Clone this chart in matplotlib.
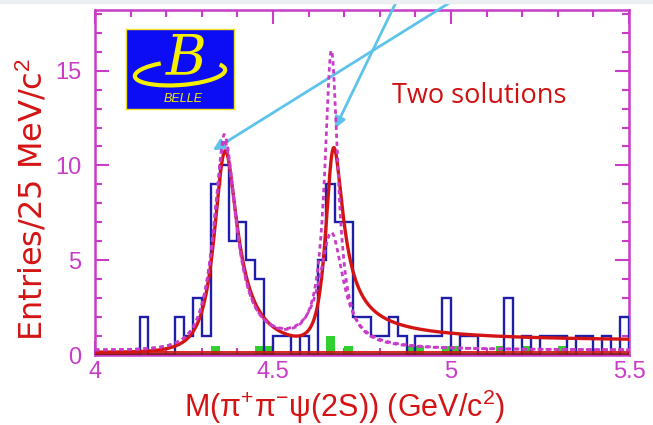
import numpy as np
import matplotlib
matplotlib.use("Agg")
import matplotlib.pyplot as plt
from matplotlib.patches import Rectangle, Arc
from matplotlib.ticker import MultipleLocator

plt.rcParams['mathtext.fontset'] = 'custom'
plt.rcParams['mathtext.rm'] = 'Liberation Sans'
plt.rcParams['mathtext.it'] = 'Liberation Sans:italic'

# ---- histogram: M(pi+ pi- psi(2S)), 25 MeV bins from 4.0 to 5.5 GeV ----
mass_lo, mass_hi, n_bins = 4.0, 5.5, 60
entries = [0, 0, 0, 0, 0,  2, 0, 0, 0, 2,
           1, 3, 1, 9, 10, 6, 7, 5, 4, 0,
           1, 1, 0, 1, 0,  5, 9, 7, 7, 2,
           2, 1, 1, 2, 1,  0, 1, 1, 1, 3,
           0, 1, 1, 0, 0,  0, 3, 0, 1, 0,
           1, 1, 1, 0, 1,  1, 0, 1, 0, 2]

# scaled psi(2S) sideband events (bin index, entries)
sideband_bins = [13, 18, 19, 26, 28, 35, 36, 39, 40, 45, 48, 52]
sideband_entries = [0.5, 0.5, 0.5, 1.0, 0.5, 0.5, 0.5, 0.5, 0.5, 0.5, 0.5, 0.5]

# ---- fit: two coherent Breit-Wigners times threshold factor + flat background ----
threshold = 3.97
m1, g1, a1 = 4.362, 0.080, 3.16
m2, g2, a2 = 4.665, 0.060, 1.27
phase = 0.6
bkg = 0.15

# components of the two solutions (peak heights per resonance)
comp_m1, comp_g1 = 4.362, 0.085
comp_m2 = 4.664
sol1_h1, sol1_h2, sol1_g2 = 11.3, 15.6, 0.045
sol2_h1, sol2_h2, sol2_g2 = 11.0, 6.0, 0.080
comp_bkg = 0.25

x_ticks_major = [4.0, 4.5, 5.0, 5.5]
x_tick_labels = ["4", "4.5", "5", "5.5"]
y_ticks_major = [0, 5, 10, 15]

magenta = '#c83cc8'
red = '#d41414'
navy = '#1e1ea8'

fig = plt.figure(figsize=(6.53, 4.25), dpi=100)
fig.patches.append(Rectangle((0, 1 - 3 / 425), 1, 3 / 425, transform=fig.transFigure,
                             color='#eceff2', zorder=0))
ax = fig.add_axes([95 / 653, 70 / 425, 534 / 653, 345 / 425])

edges = np.linspace(mass_lo, mass_hi, n_bins + 1)
centers = 0.5 * (edges[:-1] + edges[1:])
width = edges[1] - edges[0]

ax.bar(centers[sideband_bins], sideband_entries, width=width, color='#30d030',
       edgecolor='none', zorder=2)
ax.stairs(entries, edges, color=navy, lw=1.7, zorder=3)

x = np.linspace(mass_lo, mass_hi, 1500)


def amp(x, m, g):
    return (g / 2) / ((m - x) - 1j * g / 2)


def lorentz(x, m, g):
    return 1.0 / (1.0 + ((x - m) / (g / 2)) ** 2)


ps = ((x - threshold) / (m1 - threshold)) ** 2.5
total = ps * np.abs(a1 * amp(x, m1, g1) + a2 * np.exp(1j * phase) * amp(x, m2, g2)) ** 2 + bkg

supp = np.minimum(1.0, ((x - threshold) / (comp_m1 - threshold)) ** 2.5)
sol1 = sol1_h1 * supp * lorentz(x, comp_m1, comp_g1) + sol1_h2 * lorentz(x, comp_m2, sol1_g2) + comp_bkg
sol2 = sol2_h1 * supp * lorentz(x, comp_m1, comp_g1) + sol2_h2 * lorentz(x, comp_m2, sol2_g2) + comp_bkg

ax.axhline(0.05, color='#8a1a1a', lw=1.3, zorder=4)
ax.axhline(bkg, color=red, lw=1.3, zorder=4)
ax.plot(x, total, color=red, lw=2.4, zorder=5)
ax.plot(x, sol1, color=magenta, lw=2.0, ls=(0, (1.6, 1.3)), zorder=6)
ax.plot(x, sol2, color=magenta, lw=2.0, ls=(0, (1.6, 1.3)), zorder=6)

ax.set_xlim(mass_lo, mass_hi)
ax.set_ylim(0, 18.2)
ax.set_xticks(x_ticks_major)
ax.set_xticklabels(x_tick_labels)
ax.set_yticks(y_ticks_major)
ax.xaxis.set_minor_locator(MultipleLocator(0.1))
ax.yaxis.set_minor_locator(MultipleLocator(1))
ax.tick_params(which='both', direction='in', top=True, right=True, color=magenta,
               labelcolor=magenta, labelsize=17, width=1.5)
ax.tick_params(which='major', length=10)
ax.tick_params(which='minor', length=5)
ax.tick_params(axis='x', pad=4)
ax.tick_params(axis='y', pad=10)
for lab in ax.get_xticklabels() + ax.get_yticklabels():
    lab.set_family('Liberation Sans')
for sp in ax.spines.values():
    sp.set_color(magenta)
    sp.set_linewidth(1.8)

ax.set_xlabel("M(π$^{+}$π$^{-}$ψ(2S)) (GeV/c$^{2}$)", color=red, fontsize=22,
              family=['Liberation Sans', 'DejaVu Sans'])
ax.xaxis.set_label_coords(0.468, -0.094)
ax.set_ylabel(r"Entries/25 MeV/c$^{2}$", color=red, fontsize=23, family='DejaVu Sans')
ax.yaxis.set_label_coords(-0.086, 0.45)

ax.text(4.834, 13.3, "Two solutions", color='#d01010', fontsize=19.5, family='Open Sans')

arrow_kw = dict(arrowstyle='-|>', color='#5ec3ea', lw=2.0, mutation_scale=16,
                shrinkA=0, shrinkB=0)
ax.annotate('', xy=(4.331, 10.8), xytext=(5.006, 18.7), arrowprops=arrow_kw,
            annotation_clip=False)
ax.annotate('', xy=(4.674, 11.95), xytext=(4.848, 18.7), arrowprops=arrow_kw,
            annotation_clip=False)

# Belle logo
logo = fig.add_axes([126 / 653, 1 - 109 / 425, 108 / 653, 80 / 425])
logo.set_facecolor('#0c0cf5')
logo.set_xticks([])
logo.set_yticks([])
for sp in logo.spines.values():
    sp.set_color('#f0e020')
    sp.set_linewidth(1.0)
logo.set_xlim(0, 1)
logo.set_ylim(0, 1)
logo.add_patch(Arc((0.50, 0.45), 0.84, 0.30, angle=6, theta1=140, theta2=370,
                   color='#f5f000', lw=3.0))
logo.text(0.56, 0.63, "B", color='#f5f000', fontsize=40, family='DejaVu Serif',
          style='italic', ha='center', va='center')
logo.text(0.53, 0.12, "BELLE", color='#f5f000', fontsize=9, family='Liberation Sans',
          style='italic', ha='center', va='center')

fig.savefig("out.png", dpi=100)
